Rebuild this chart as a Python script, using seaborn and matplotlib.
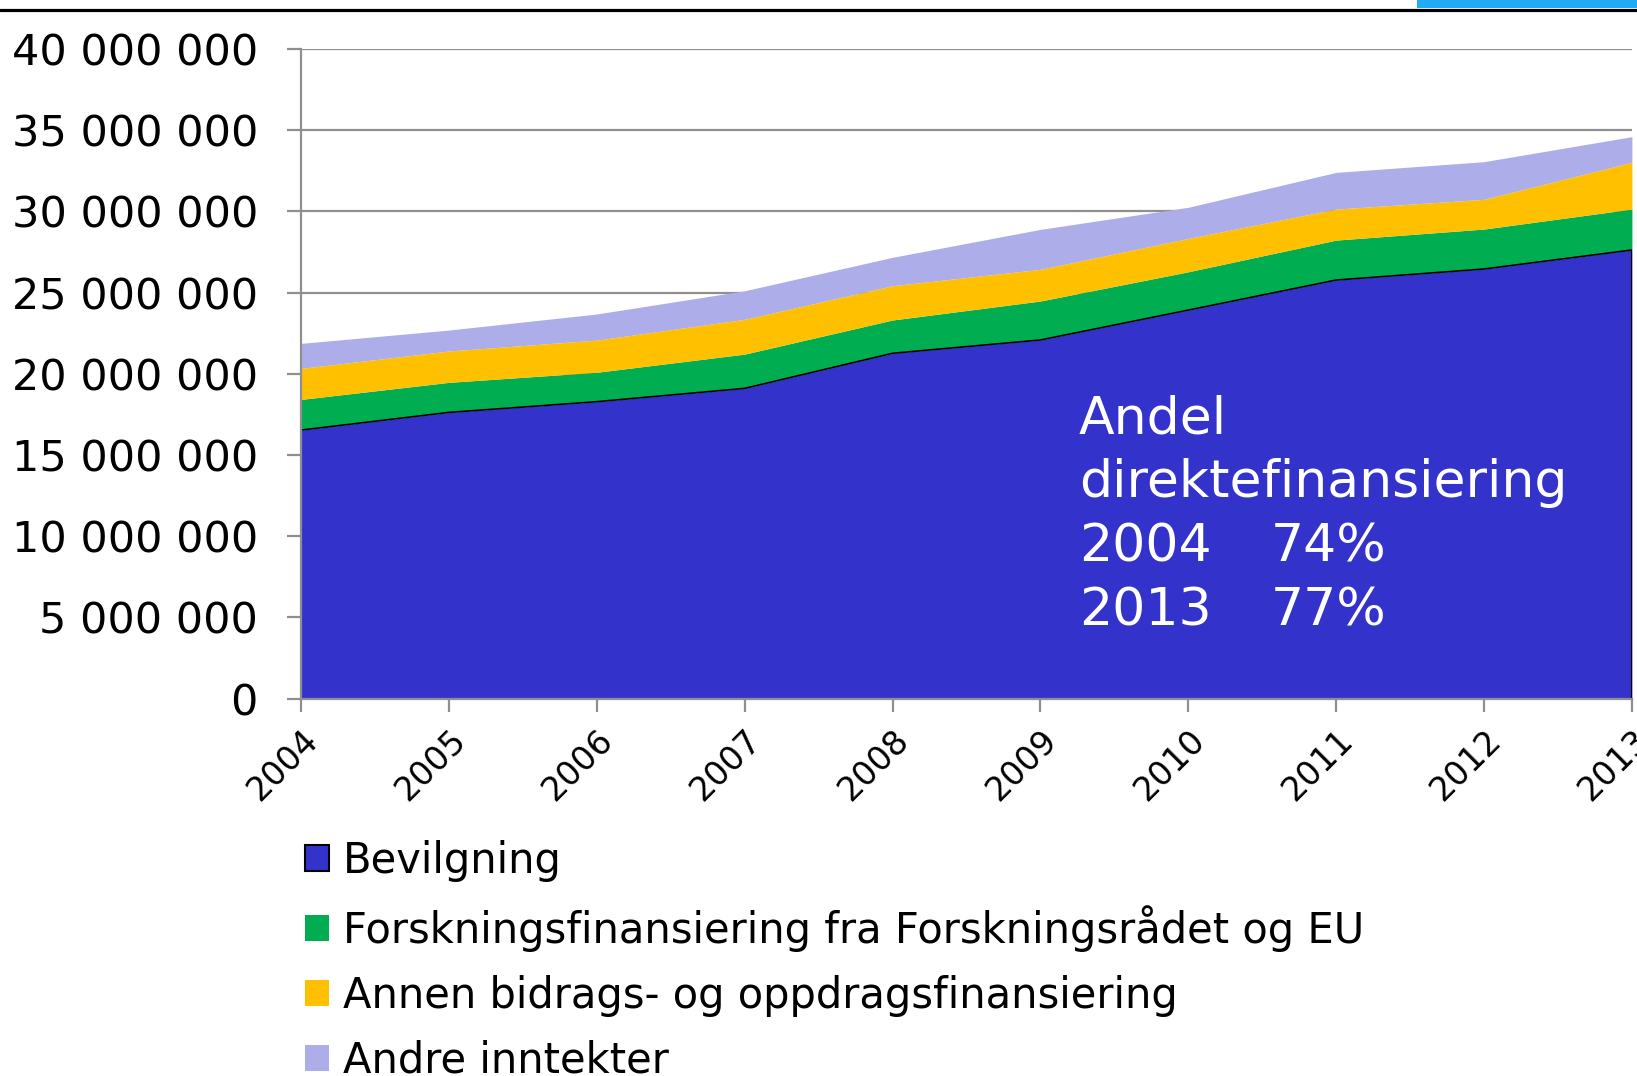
import numpy as np
import matplotlib
matplotlib.use('Agg')
import matplotlib.pyplot as plt
import seaborn as sns
from matplotlib.patches import Patch, Rectangle
from matplotlib.lines import Line2D
from matplotlib.ticker import FuncFormatter

# Data (in NOK 1000)
years = [2004, 2005, 2006, 2007, 2008, 2009, 2010, 2011, 2012, 2013]
bevilgning = [16.53, 17.62, 18.28, 19.10, 21.26, 22.08, 23.92, 25.77, 26.45, 27.62]
forskning = [1.89, 1.85, 1.81, 2.11, 2.05, 2.40, 2.36, 2.46, 2.46, 2.52]
annen = [1.91, 1.93, 1.98, 2.14, 2.11, 1.95, 2.05, 1.91, 1.83, 2.88]
andre = [1.54, 1.29, 1.61, 1.76, 1.75, 2.46, 1.92, 2.26, 2.32, 1.58]

labels = ['Bevilgning',
          'Forskningsfinansiering fra Forskningsrådet og EU',
          'Annen bidrags- og oppdragsfinansiering',
          'Andre inntekter']
colors = ['#3333CC', '#00AD50', '#FFC000', '#ADADE9']

annot_lines = ['Andel', 'direktefinansiering', '2004', '2013']
annot_pct = ['74%', '77%']

sns.set_style('white')
plt.rcParams['font.family'] = ['DejaVu Sans']
plt.rcParams['text.color'] = 'black'
plt.rcParams['xtick.labelcolor'] = 'black'
plt.rcParams['ytick.labelcolor'] = 'black'

series = [np.array(s) * 1e6 for s in (bevilgning, forskning, annen, andre)]

fig = plt.figure(figsize=(16.37, 10.76), dpi=100)
ax = fig.add_axes([0.1839, 0.3508, 0.9969 - 0.1839, 0.9545 - 0.3508])

ax.stackplot(years, *series, colors=colors, labels=labels, linewidth=0)
# black outline on top of the Bevilgning area
sns.lineplot(x=years, y=series[0], ax=ax, color='black', linewidth=1.2, legend=False)
ax.plot([years[-1], years[-1]], [0, series[0][-1]], color='black', linewidth=1.5)

ax.set_xlim(years[0], years[-1])
ax.set_ylim(0, 40e6)
ax.set_yticks(np.arange(0, 40e6 + 1, 5e6))
ax.set_xticks(years)
ax.yaxis.set_major_formatter(FuncFormatter(lambda v, p: f'{int(v):,}'.replace(',', ' ')))
ax.set_axisbelow(True)
ax.grid(axis='y', color='#8F8F8F', linewidth=1.6)
ax.grid(axis='x', visible=False)

for s in ['top', 'right']:
    ax.spines[s].set_visible(False)
for s in ['left', 'bottom']:
    ax.spines[s].set_color('#8F8F8F')
    ax.spines[s].set_linewidth(1.6)
    ax.spines[s].set_zorder(5)

ax.tick_params(axis='y', which='major', left=True, length=10, width=1.6, color='#8F8F8F',
               labelsize=31, pad=21, labelcolor='black')
ax.tick_params(axis='x', which='major', bottom=True, length=9, width=1.6, color='#8F8F8F',
               labelsize=24, pad=9, labelcolor='black')
for lbl in ax.get_xticklabels():
    lbl.set_rotation(45)
    lbl.set_ha('right')
    lbl.set_va('top')
    lbl.set_rotation_mode('anchor')

# annotation inside the blue area
ax_h = 698.5 - 49
def ay(py):
    return (698.5 - py) / ax_h
def axx(px):
    return (px - 301) / (1632 - 301)

baselines = [433, 497, 561, 625]
for txt, b in zip(annot_lines, baselines):
    ax.text(axx(1079), ay(b), txt, transform=ax.transAxes, color='white',
            fontsize=37.5, va='baseline', ha='left', zorder=6)
for txt, b in zip(annot_pct, baselines[2:]):
    ax.text(axx(1271), ay(b), txt, transform=ax.transAxes, color='white',
            fontsize=37.5, va='baseline', ha='left', zorder=6)

# legend below the chart
handles = [Patch(facecolor=c, edgecolor='black' if i == 0 else c, linewidth=1.5 if i == 0 else 0)
           for i, c in enumerate(colors)]
fig.legend(handles, labels, loc='upper left', bbox_to_anchor=(305 / 1637, 1 - 840 / 1076),
           frameon=False, fontsize=30, handlelength=0.58, handleheight=0.58,
           handletextpad=0.34, labelspacing=0.55, borderpad=0, borderaxespad=0)

# slide decoration at top
fig.add_artist(Line2D([0, 1], [1 - 10 / 1076, 1 - 10 / 1076], transform=fig.transFigure,
                      color='black', linewidth=2.3))
fig.add_artist(Rectangle((1417 / 1637, 1 - 8 / 1076), 220 / 1637, 8 / 1076,
                         transform=fig.transFigure, color='#22AAF2', linewidth=0))

fig.savefig('out.png', dpi=100)
